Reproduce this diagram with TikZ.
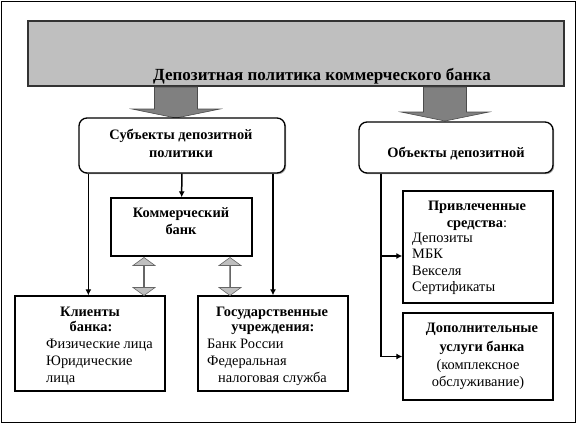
\documentclass[tikz,border=0pt]{standalone}
\usepackage{fontspec}
\setmainfont{Liberation Serif}
\usetikzlibrary{arrows.meta,shapes.arrows,shadows}

\begin{document}
\begin{tikzpicture}[x=1pt, y=-1pt,
  box/.style 2 args={draw, line width=1.3pt, fill=white, inner sep=0pt,
    minimum width=#1, minimum height=#2,
    drop shadow={shadow xshift=1.2pt, shadow yshift=-1.2pt, fill=black!35, opacity=1}},
  hd/.style={font=\fontsize{14.4}{17}\selectfont\bfseries, inner sep=0pt, anchor=base},
  lst/.style={font=\fontsize{14.4}{17}\selectfont, inner sep=0pt, anchor=base west},
  conn/.style={line width=1.5pt, -{Latex[length=6pt,width=6pt]}},
  dblarrow/.style={double arrow, draw=black!60, fill=black!25, line width=0.6pt,
    shape border rotate=90, inner sep=0pt, minimum height=38pt, minimum width=22pt,
    double arrow head extend=7pt, double arrow tip angle=108}]
  \useasboundingbox (0,0) rectangle (576,424);
  \draw[line width=0.8pt] (1,1) rectangle (575,422);

  % banner on top
  \node[draw=black!80, line width=1.8pt, fill=black!25, inner sep=0pt,
    minimum width=536pt, minimum height=65pt,
    drop shadow={shadow xshift=1.2pt, shadow yshift=-1.2pt, fill=black!35, opacity=1}]
    (ban) at (296,53.5) {};
  \node[hd, font=\fontsize{17}{20}\selectfont\bfseries] (ban-t) at (322,80)
    {Депозитная политика коммерческого банка};
  % wide grey arrows out of the banner
  \foreach \x/\t in {176/118, 445/121}
    \draw[draw=black!70, fill=black!50, line width=0.6pt]
      (\x-21.5,87) -- (\x+21.5,87) -- (\x+21.5,\t-9) -- (\x+44,\t-9) -- (\x,\t)
      -- (\x-44,\t-9) -- (\x-21.5,\t-9) -- cycle;

  % the two second-level boxes
  \node[box={206pt}{55pt}, rounded corners=8pt] (sub) at (182,145.5) {};
  \node[hd] (sub-1) at (181,139) {Субъекты депозитной};
  \node[hd] (sub-2) at (181,157) {политики};
  \node[box={194pt}{51pt}, rounded corners=8pt] (obj) at (456,147.5) {};
  \node[hd] (obj-1) at (456,157) {Объекты депозитной};

  \node[box={141pt}{58pt}] (kb) at (181.5,227) {};
  \node[hd] (kb-1) at (181,217) {Коммерческий};
  \node[hd] (kb-2) at (181,234) {банк};

  % bottom left boxes
  \node[box={150pt}{95pt}] (cli) at (90,343.5) {};
  \node[hd] (cli-1) at (90,316) {Клиенты};
  \node[hd] (cli-2) at (91,331) {банка:};
  \foreach \t [count=\i] in {Физические лица, Юридические, лица}
    \node[lst] (cli-l\i) at (46,331+17*\i) {\t};

  \node[box={150pt}{95pt}] (gov) at (273,343.5) {};
  \node[hd] (gov-1) at (272,316) {Государственные};
  \node[hd] (gov-2) at (273,331) {учреждения:};
  \node[lst] (gov-l1) at (207,348) {Банк России};
  \node[lst] (gov-l2) at (207,365) {Федеральная};
  \node[lst] (gov-l3) at (218,382) {налоговая служба};

  % right column
  \node[box={150pt}{112pt}] (priv) at (478,247) {};
  \node[hd] (priv-1) at (477,210) {Привлеченные};
  \node[hd] (priv-2) at (477,227) {средства\textmd{:}};
  \foreach \t [count=\i] in {Депозиты, МБК, Векселя, Сертификаты}
    \node[lst] (priv-l\i) at (412,225.5+16.6*\i) {\t};

  \node[box={150pt}{87pt}] (dop) at (478,356.5) {};
  \node[hd] (dop-1) at (482,332) {Дополнительные};
  \node[hd] (dop-2) at (482,351) {услуги банка};
  \node[lst, anchor=base] (dop-3) at (478,369) {(комплексное};
  \node[lst, anchor=base] (dop-4) at (478,386) {обслуживание)};

  % connectors
  \draw[conn] (sub) -- (kb);
  \draw[conn] ([xshift=10pt]sub.south west) -- ([xshift=10pt]sub.south west |- cli.north);
  \draw[conn] (sub.south -| gov.north) -- (gov.north);
  \node[dblarrow] (dl) at (144,276.5) {};
  \node[dblarrow] (dr) at (230,276.5) {};

  \coordinate (trk) at (381,0);
  \draw[line width=1.5pt] (obj.south -| trk) -- ([yshift=-9pt]priv.west -| trk);
  \draw[conn] ([yshift=-9pt]priv.west -| trk) -- ([yshift=-9pt]priv.west);
  \draw[conn] ([yshift=-9pt]priv.west -| trk) |- (dop.west);
\end{tikzpicture}
\end{document}
